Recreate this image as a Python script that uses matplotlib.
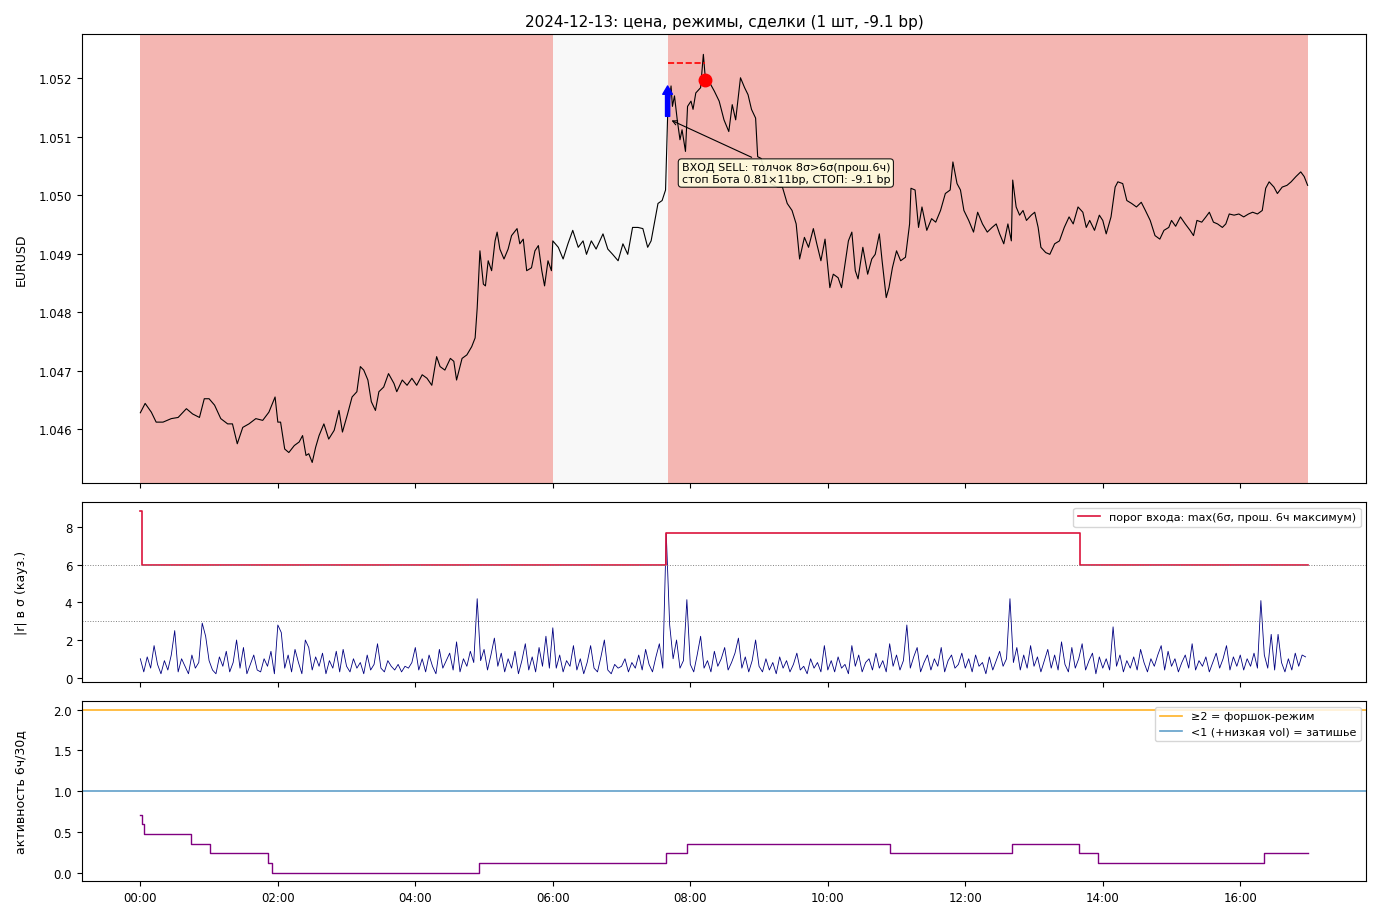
import matplotlib
matplotlib.use("Agg")
import matplotlib.pyplot as plt
from matplotlib.ticker import FuncFormatter, MultipleLocator
import numpy as np

# ---------------- data (hours since 00:00) ----------------
price_t = [
    0.00, 0.07, 0.16, 0.23, 0.33, 0.45, 0.55, 0.67, 0.76, 0.86, 0.93, 1.00, 1.08, 1.17, 1.27, 1.34,
    1.41, 1.49, 1.58, 1.68, 1.78, 1.87, 1.96, 2.00, 2.04, 2.10, 2.16, 2.24, 2.31, 2.36, 2.41, 2.45,
    2.50, 2.55, 2.60, 2.67, 2.74, 2.82, 2.89, 2.94, 3.01, 3.08, 3.15, 3.20, 3.25, 3.31, 3.36, 3.42,
    3.47, 3.54, 3.61, 3.69, 3.73, 3.81, 3.88, 3.95, 4.02, 4.10,
    4.17, 4.24, 4.31, 4.36, 4.43, 4.51, 4.56, 4.60, 4.68, 4.75, 4.82, 4.87, 4.90, 4.94, 4.99, 5.02,
    5.06, 5.11, 5.16, 5.19, 5.23, 5.29, 5.35, 5.40, 5.48, 5.52, 5.57, 5.62, 5.69, 5.74, 5.79, 5.84,
    5.88, 5.93, 5.98, 6.00, 6.08, 6.15, 6.22, 6.29, 6.37, 6.44, 6.49, 6.56, 6.63, 6.73, 6.80, 6.87,
    6.95, 7.02, 7.09, 7.16, 7.24, 7.31, 7.38, 7.43, 7.48, 7.53, 7.59, 7.64, 7.67, 7.72, 7.74, 7.77,
    7.81, 7.85, 7.88, 7.93, 7.96, 8.01, 8.04, 8.08, 8.15, 8.19, 8.22, 8.28,
    8.35, 8.42, 8.49, 8.56, 8.61, 8.66, 8.73, 8.79, 8.84, 8.89, 8.95, 8.98, 9.03, 9.10, 9.17, 9.27,
    9.34, 9.41, 9.48, 9.54, 9.59, 9.66, 9.72, 9.79, 9.84, 9.90, 9.96, 10.03, 10.08, 10.15, 10.20,
    10.25, 10.30, 10.35, 10.40, 10.44, 10.51, 10.58, 10.64, 10.69, 10.75, 10.79, 10.85, 10.89, 10.94,
    11.00, 11.06, 11.13, 11.19, 11.21, 11.27, 11.32, 11.37, 11.44, 11.51, 11.57, 11.64, 11.71, 11.78,
    11.82, 11.88, 11.93, 11.98, 12.05, 12.12, 12.18, 12.25, 12.32, 12.39, 12.45, 12.50, 12.56, 12.62,
    12.67, 12.69, 12.74, 12.79, 12.84, 12.89, 12.96, 13.01, 13.06, 13.10, 13.17, 13.23, 13.30, 13.37,
    13.44, 13.51, 13.57, 13.64, 13.71, 13.76, 13.81, 13.88, 13.95, 14.00, 14.05, 14.12, 14.18, 14.22,
    14.29, 14.35, 14.42, 14.49, 14.56, 14.62, 14.69, 14.76, 14.83, 14.89, 14.96, 15.00, 15.06, 15.13,
    15.20, 15.27, 15.32, 15.37, 15.44, 15.50, 15.55, 15.61, 15.67, 15.74, 15.79, 15.84, 15.91, 15.98,
    16.05, 16.12, 16.18, 16.25, 16.32, 16.37, 16.42, 16.49, 16.54, 16.61, 16.68, 16.74, 16.81, 16.88,
    16.93, 16.98,
]
price_v = [
    1.04628, 1.04644, 1.04629, 1.04612, 1.04612, 1.04618, 1.04620, 1.04635, 1.04626, 1.04620, 1.04652, 1.04652, 1.04641, 1.04618, 1.04609, 1.04609,
    1.04575, 1.04603, 1.04609, 1.04618, 1.04615, 1.04629, 1.04655, 1.04612, 1.04612, 1.04566, 1.04560, 1.04572, 1.04578, 1.04589, 1.04555, 1.04558,
    1.04543, 1.04569, 1.04589, 1.04609, 1.04583, 1.04598, 1.04632, 1.04595, 1.04624, 1.04655, 1.04664, 1.04707, 1.04701, 1.04684, 1.04647, 1.04632,
    1.04664, 1.04672, 1.04695, 1.04678, 1.04664, 1.04684, 1.04675, 1.04687, 1.04675, 1.04693,
    1.04687, 1.04675, 1.04724, 1.04707, 1.04701, 1.04721, 1.04716, 1.04684, 1.04721, 1.04727, 1.04741, 1.04756, 1.04807, 1.04905, 1.04848, 1.04845,
    1.04888, 1.04871, 1.04922, 1.04937, 1.04908, 1.04891, 1.04908, 1.04931, 1.04943, 1.04917, 1.04925, 1.04871, 1.04876, 1.04905, 1.04914, 1.04871,
    1.04845, 1.04888, 1.04871, 1.04922, 1.04911, 1.04891, 1.04917, 1.04940, 1.04911, 1.04922, 1.04899, 1.04922, 1.04908, 1.04934, 1.04908, 1.04899,
    1.04888, 1.04917, 1.04899, 1.04945, 1.04945, 1.04943, 1.04911, 1.04922, 1.04954, 1.04986, 1.04991, 1.05009, 1.05135, 1.05187, 1.05152, 1.05170,
    1.05129, 1.05095, 1.05112, 1.05075, 1.05152, 1.05161, 1.05147, 1.05175, 1.05184, 1.05241, 1.05198, 1.05193,
    1.05178, 1.05161, 1.05129, 1.05109, 1.05155, 1.05129, 1.05201, 1.05184, 1.05172, 1.05147, 1.05132, 1.05066, 1.05063, 1.05032, 1.05020, 1.05014,
    1.05014, 1.04986, 1.04974, 1.04951, 1.04891, 1.04928, 1.04911, 1.04943, 1.04917, 1.04888, 1.04925, 1.04842, 1.04865, 1.04859, 1.04842,
    1.04882, 1.04922, 1.04937, 1.04871, 1.04857, 1.04911, 1.04865, 1.04891, 1.04899, 1.04934, 1.04888, 1.04825, 1.04842, 1.04876,
    1.04905, 1.04888, 1.04894, 1.04951, 1.05012, 1.05009, 1.04945, 1.04980, 1.04940, 1.04960, 1.04954, 1.04974, 1.05003, 1.05009,
    1.05057, 1.05020, 1.05009, 1.04974, 1.04957, 1.04937, 1.04971, 1.04951, 1.04937, 1.04945, 1.04951, 1.04934, 1.04917, 1.04951,
    1.04922, 1.05026, 1.04980, 1.04966, 1.04974, 1.04957, 1.04966, 1.04971, 1.04945, 1.04911, 1.04902, 1.04899, 1.04917, 1.04922,
    1.04945, 1.04963, 1.04951, 1.04980, 1.04971, 1.04945, 1.04957, 1.04940, 1.04966, 1.04957, 1.04934, 1.04963, 1.05014, 1.05023,
    1.05020, 1.04991, 1.04986, 1.04980, 1.04988, 1.04974, 1.04957, 1.04931, 1.04925, 1.04940, 1.04945, 1.04957, 1.04947, 1.04963,
    1.04951, 1.04940, 1.04931, 1.04957, 1.04954, 1.04963, 1.04971, 1.04954, 1.04951, 1.04945, 1.04951, 1.04968, 1.04966, 1.04968,
    1.04963, 1.04968, 1.04971, 1.04968, 1.04974, 1.05012, 1.05023, 1.05014, 1.05003, 1.05014, 1.05017, 1.05023, 1.05032, 1.05040,
    1.05032, 1.05017,
]

# |r| in sigma, 3-minute steps starting 00:00 (one row per hour)
absr_step_h = 0.05
absr_v = [
    1.0, 0.3, 1.1, 0.5, 1.7, 0.7, 0.2, 0.9, 0.4, 1.2, 2.5, 0.3, 1.0, 0.6, 0.2, 1.2, 0.5, 0.8, 2.9, 2.2,
    0.9, 0.4, 0.2, 1.1, 0.6, 1.4, 0.3, 0.8, 2.0, 0.5, 1.6, 0.2, 0.7, 1.2, 0.4, 0.3, 1.0, 0.6, 1.4, 0.2,
    2.8, 2.4, 0.5, 1.2, 0.3, 1.5, 0.8, 0.2, 2.0, 1.6, 0.4, 1.1, 0.6, 1.3, 0.2, 0.9, 0.5, 1.4, 0.3, 1.5,
    0.6, 0.3, 1.0, 0.5, 0.8, 0.2, 1.2, 0.4, 0.7, 1.8, 0.5, 0.3, 0.9, 0.6, 0.4, 0.7, 0.3, 0.6, 0.5, 0.8,
    1.6, 0.4, 1.0, 0.3, 1.2, 0.6, 0.2, 1.5, 0.5, 0.9, 1.3, 0.4, 1.9, 0.3, 1.0, 0.6, 1.4, 0.8, 4.2, 0.9,
    1.5, 0.4, 1.2, 2.1, 0.6, 1.3, 0.3, 1.0, 0.5, 1.4, 0.2, 0.9, 1.8, 0.4, 1.1, 0.3, 1.6, 0.6, 2.2, 0.5,
    2.65, 0.5, 1.2, 0.3, 0.9, 0.6, 1.7, 0.4, 1.0, 0.2, 0.8, 1.7, 0.5, 0.3, 1.1, 2.0, 0.4, 0.2, 0.7, 0.5,
    0.6, 1.0, 0.3, 0.8, 0.5, 1.2, 0.4, 1.5, 0.7, 0.3, 1.1, 1.8, 0.5, 7.7, 2.8, 1.0, 2.0, 0.5, 0.9, 4.15,
    0.7, 0.3, 1.2, 2.2, 0.5, 0.9, 0.3, 1.4, 0.6, 1.0, 1.6, 0.4, 0.8, 1.3, 2.1, 0.5, 1.1, 0.3, 0.9, 2.0,
    0.6, 0.3, 1.0, 0.4, 0.8, 0.2, 1.1, 0.5, 0.9, 0.3, 0.7, 1.3, 0.4, 0.6, 0.2, 1.0, 0.5, 0.8, 0.3, 1.7,
    0.4, 0.9, 0.3, 1.1, 0.5, 0.7, 0.2, 1.7, 0.6, 1.2, 0.3, 0.8, 1.0, 0.4, 1.3, 0.5, 0.9, 0.3, 1.8, 0.6,
    1.2, 0.4, 0.9, 2.8, 0.5, 1.1, 1.6, 0.3, 0.8, 1.2, 0.4, 1.0, 0.6, 1.6, 0.3, 0.9, 1.2, 0.5, 0.7, 1.3,
    0.5, 1.0, 0.3, 1.2, 0.6, 0.8, 0.2, 1.1, 0.4, 0.9, 1.4, 0.6, 1.0, 4.2, 0.8, 1.6, 0.4, 1.2, 0.5, 1.7,
    0.6, 1.1, 0.3, 0.9, 1.5, 0.5, 1.2, 0.4, 1.9, 0.7, 0.3, 1.6, 0.5, 1.0, 1.8, 0.4, 0.9, 1.3, 0.2, 1.1,
    0.5, 1.0, 0.4, 2.7, 0.6, 1.2, 0.3, 0.9, 0.5, 1.1, 0.4, 1.5, 0.8, 0.3, 1.0, 0.6, 1.2, 1.7, 0.4, 1.4,
    0.6, 1.0, 0.3, 0.8, 1.2, 0.5, 1.8, 0.4, 0.9, 0.6, 1.1, 0.3, 0.8, 1.3, 0.5, 1.0, 1.7, 0.4, 1.1, 0.6,
    1.2, 0.4, 1.0, 0.6, 1.3, 0.5, 4.1, 1.2, 0.5, 2.3, 0.4, 2.3, 0.8, 0.3, 1.0, 0.4, 1.3, 0.6, 1.2, 1.1,
]

thr_t = [0.0, 0.03, 7.65, 13.67, 16.98]
thr_v = [8.9, 6.0, 7.7, 6.0, 6.0]

act_t = [0.0, 0.03, 0.06, 0.73, 1.01, 1.85, 1.92, 4.92, 7.65, 7.95, 10.91, 12.68, 13.65, 13.93, 16.34, 16.98]
act_v = [0.714, 0.595, 0.476, 0.357, 0.238, 0.119, 0.0, 0.119, 0.238, 0.357, 0.238, 0.357, 0.238, 0.119, 0.238, 0.238]

regime_start = [0.0, 6.0, 7.67]
regime_end = [6.0, 7.67, 16.98]
regime_kind = ["foreshock", "calm", "foreshock"]
regime_color = {"foreshock": "#f4b6b2", "calm": "#f8f8f8"}

entry_t, entry_p, entry_hi = 7.67, 1.05135, 1.05187
exit_t, exit_p = 8.21, 1.05198
stop_p = 1.05226

title = "2024-12-13: цена, режимы, сделки (1 шт, -9.1 bp)"
note = "ВХОД SELL: толчок 8σ>6σ(прош.6ч)\nстоп Бота 0.81×11bp, СТОП: -9.1 bp"

# ---------------- figure ----------------
plt.rcParams['font.family'] = ['DejaVu Sans']
fig = plt.figure(figsize=(13.8, 9.2), dpi=100)
gs = fig.add_gridspec(3, 1, height_ratios=[2.5, 1, 1], left=0.0594, right=0.9899,
                      top=0.962, bottom=0.0413, hspace=0.0724)
ax1 = fig.add_subplot(gs[0])
ax2 = fig.add_subplot(gs[1], sharex=ax1)
ax3 = fig.add_subplot(gs[2], sharex=ax1)

# top: price
for s, e, k in zip(regime_start, regime_end, regime_kind):
    ax1.axvspan(s, e, color=regime_color[k], lw=0, zorder=0)
ax1.plot(price_t, price_v, color='black', lw=0.8, zorder=2)
ax1.plot([entry_t, exit_t], [stop_p, stop_p], color='red', ls='--', lw=1.2, zorder=3)
ax1.annotate('', xy=(entry_t, entry_hi), xytext=(entry_t, entry_p),
             arrowprops=dict(color='blue', width=3, headwidth=7, headlength=6, shrink=0), zorder=4)
ax1.plot([exit_t], [exit_p], 'o', color='red', ms=9, zorder=5)
ax1.annotate(note, xy=(entry_t + 0.02, entry_p - 0.00005), xytext=(9.39, 1.05038),
             ha='center', va='center', fontsize=8,
             bbox=dict(boxstyle='round,pad=0.3', fc='lightyellow', ec='black', lw=0.8, alpha=0.9),
             arrowprops=dict(arrowstyle='->', color='black', lw=0.8), zorder=6)
ax1.set_ylabel('EURUSD', fontsize=9, labelpad=8)
ax1.set_title(title, fontsize=11)
ax1.yaxis.set_major_locator(MultipleLocator(0.001))
ax1.yaxis.set_major_formatter(FuncFormatter(lambda v, p: f"{v:.3f}"))
ax1.tick_params(labelbottom=False)

# middle: |r| in sigma
absr_t = np.arange(len(absr_v)) * absr_step_h
ax2.plot(absr_t, absr_v, color='navy', lw=0.6)
ax2.step(thr_t, thr_v, where='post', color='crimson', lw=1.2,
         label='порог входа: max(6σ, прош. 6ч максимум)')
ax2.axhline(6, color='grey', ls=':', lw=0.7)
ax2.axhline(3, color='grey', ls=':', lw=0.7)
ax2.set_ylabel('|r| в σ (кауз.)', fontsize=9, labelpad=8)
ax2.legend(loc='upper right', fontsize=8)
ax2.tick_params(labelbottom=False)

# bottom: activity
ax3.axhline(2.0, color='orange', lw=1.2, alpha=0.85, label='≥2 = форшок-режим')
ax3.axhline(1.0, color='tab:blue', lw=1.2, alpha=0.7, label='<1 (+низкая vol) = затишье')
ax3.step(act_t, act_v, where='post', color='purple', lw=1.0)
ax3.set_ylabel('активность 6ч/30д', fontsize=9, labelpad=8)
ax3.legend(loc='upper right', fontsize=8)

ax3.xaxis.set_major_locator(MultipleLocator(2))
ax3.xaxis.set_major_formatter(FuncFormatter(lambda v, p: f"{int(round(v)) % 24:02d}:00"))
for ax in (ax1, ax2, ax3):
    ax.tick_params(labelsize=8.5)
ax1.set_xlim(-0.849, 17.83)
fig.align_ylabels([ax1, ax2, ax3])

fig.savefig('out.png', dpi=100)
